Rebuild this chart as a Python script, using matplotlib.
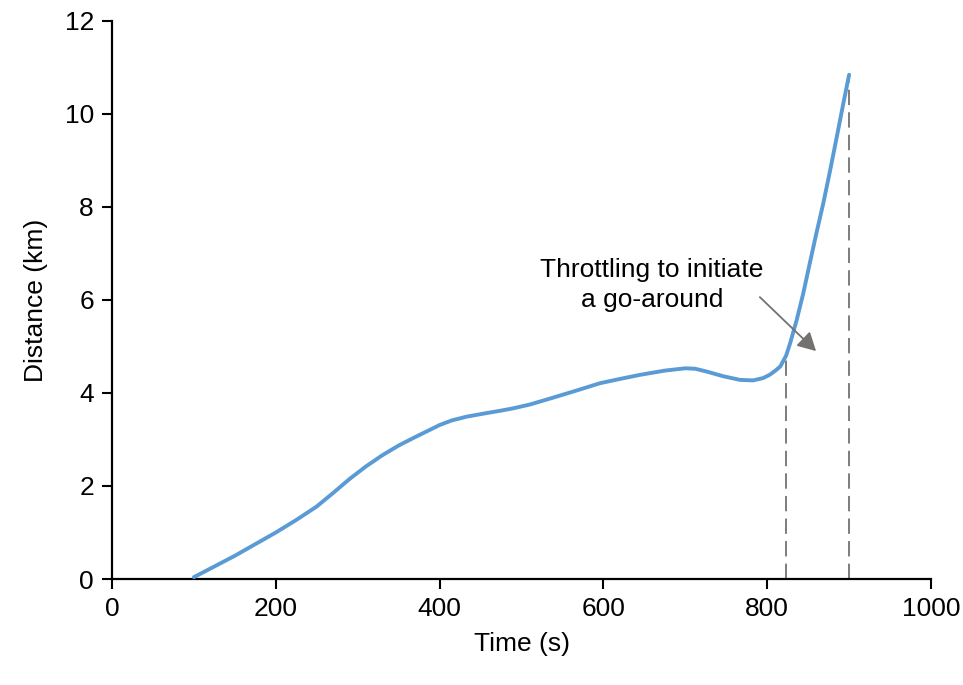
import matplotlib.pyplot as plt
import numpy as np
from matplotlib import font_manager

# distance travelled vs time
TIME_S = [100, 150, 200, 225, 250, 270, 290, 310, 330, 350, 370, 385, 400,
          415, 433, 455, 475, 490, 510, 535, 565, 596, 620, 645, 675, 700,
          712, 726, 746, 767, 783, 795, 803, 810, 816, 823, 828, 836, 844,
          852, 860, 868.5, 877, 885, 893, 900]
DIST_KM = [0.04, 0.50, 1.00, 1.27, 1.56, 1.85, 2.15, 2.42, 2.66, 2.87, 3.05,
           3.18, 3.31, 3.41, 3.49, 3.56, 3.62, 3.67, 3.75, 3.88, 4.04, 4.21,
           4.30, 4.39, 4.48, 4.53, 4.52, 4.46, 4.36, 4.28, 4.27, 4.32, 4.39,
           4.48, 4.57, 4.80, 5.07, 5.57, 6.14, 6.79, 7.43, 8.08, 8.80, 9.51,
           10.23, 10.84]

MARK_T = [823, 900]          # dashed reference lines
X_TICKS = [0, 200, 400, 600, 800, 1000]
Y_TICKS = [0, 2, 4, 6, 8, 10, 12]
NOTE = "Throttling to initiate\na go-around"
NOTE_XY = (659, 6.32)
ARROW_FROM = (791, 6.06)
ARROW_TO = (859.6, 4.90)

LINE_BLUE = "#5B9BD5"
GREY = "#767171"

names = {f.name for f in font_manager.fontManager.ttflist}
narrow = "Liberation Sans Narrow" if "Liberation Sans Narrow" in names else "Liberation Sans"
plt.rcParams["font.family"] = ["Liberation Sans", "DejaVu Sans"]


def main() -> None:
    fig = plt.figure(figsize=(9.63, 6.85), dpi=100)
    ax = fig.add_axes([0.1163, 0.1547, 0.8505, 0.815])

    ax.plot(TIME_S, DIST_KM, color=LINE_BLUE, linewidth=2.8,
            solid_capstyle="round", solid_joinstyle="round", zorder=3)

    for t in MARK_T:
        top = np.interp(t, TIME_S, DIST_KM)
        ax.plot([t, t], [0, top], color=GREY, linewidth=1.3,
                dashes=(8.5, 4), zorder=2)

    ax.text(*NOTE_XY, NOTE, ha="center", va="center", fontsize=19,
            family=narrow, linespacing=1.3)
    ax.annotate("", xy=ARROW_TO, xytext=ARROW_FROM,
                arrowprops=dict(arrowstyle="-|>,head_length=0.55,head_width=0.3",
                                mutation_scale=20, color=GREY, lw=1.3,
                                shrinkA=0, shrinkB=0),
                zorder=4)

    ax.set_xlim(0, 1000)
    ax.set_ylim(0, 12)
    ax.set_xticks(X_TICKS)
    ax.set_yticks(Y_TICKS)
    ax.tick_params(direction="out", length=7, width=1.5, labelsize=19,
                   pad=6, color="black")
    for side in ("top", "right"):
        ax.spines[side].set_visible(False)
    for side in ("left", "bottom"):
        ax.spines[side].set_linewidth(1.6)

    ax.set_xlabel("Time (s)", fontsize=19, family=narrow, labelpad=8)
    ax.set_ylabel("Distance (km)", fontsize=19, family=narrow, labelpad=12)

    fig.savefig("out.png", dpi=100)
    plt.close(fig)


if __name__ == "__main__":
    main()
